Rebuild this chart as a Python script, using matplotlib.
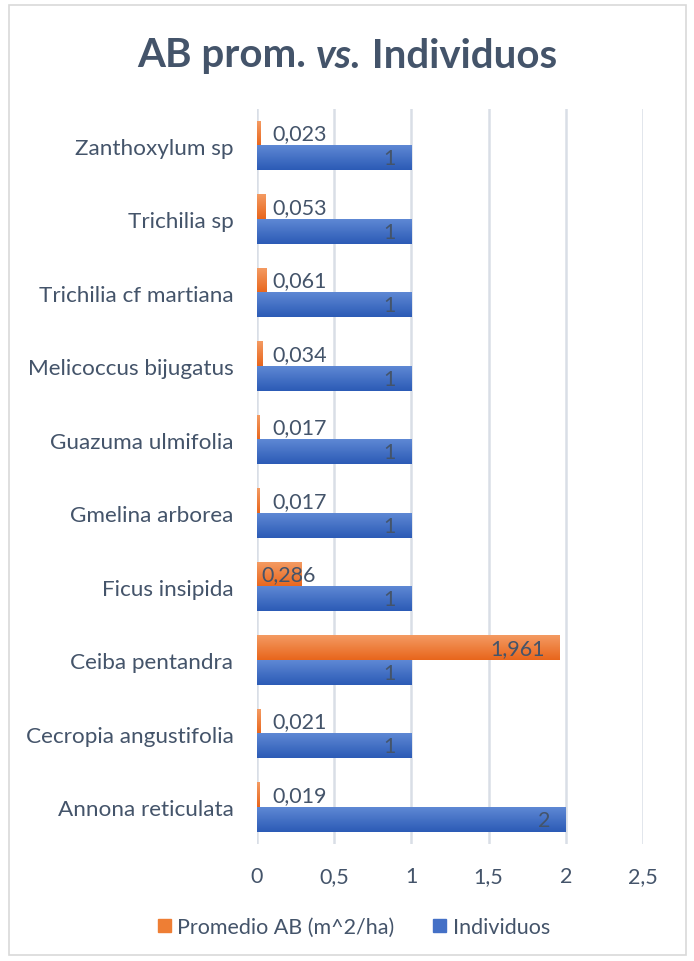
import numpy as np
import matplotlib.pyplot as plt
from matplotlib.colors import LinearSegmentedColormap
from matplotlib.patches import Rectangle

especies = ["Annona reticulata", "Cecropia angustifolia", "Ceiba pentandra",
            "Ficus insipida", "Gmelina arborea", "Guazuma ulmifolia",
            "Melicoccus bijugatus", "Trichilia cf martiana", "Trichilia sp",
            "Zanthoxylum sp"]
promedio_ab = [0.019, 0.021, 1.961, 0.286, 0.017, 0.017, 0.034, 0.061, 0.053, 0.023]
individuos = [2, 1, 1, 1, 1, 1, 1, 1, 1, 1]
xticks = [0, 0.5, 1, 1.5, 2, 2.5]

texto = "#44546A"
fs = 15.5
plt.rcParams['font.family'] = ['Lato', 'DejaVu Sans']

fig = plt.figure(figsize=(6.94, 9.62), dpi=100)

# marco del gráfico
fig.patches.append(Rectangle((9 / 694, 6 / 962), 677 / 694, 950 / 962,
                             transform=fig.transFigure, fill=False,
                             edgecolor="#D9D9D9", linewidth=1.2))

ax = fig.add_axes([257 / 694, 1 - 845 / 962, 386 / 694, 735 / 962])

naranja = LinearSegmentedColormap.from_list("nar", ["#F49A62", "#E8661C"])
azul = LinearSegmentedColormap.from_list("azu", ["#5E88D4", "#2C5BB6"])
grad = np.linspace(0, 1, 64).reshape(-1, 1)

h = 0.334
y = np.arange(len(especies))


def barra_gradiente(x0, y0, ancho, alto, cmap):
    ax.imshow(grad, extent=(x0, x0 + ancho, y0, y0 + alto), origin="upper",
              cmap=cmap, aspect="auto", zorder=3, interpolation="bilinear")


for i in y:
    barra_gradiente(0, i, promedio_ab[i], h, naranja)
    barra_gradiente(0, i - h, individuos[i], h, azul)

# etiquetas de datos
for i in y:
    v = promedio_ab[i]
    lab = f"{v:.3f}".replace(".", ",")
    if v > 1:
        ax.text(v - 0.1, i + h / 2, lab, ha="right", va="center",
                fontsize=fs, color=texto, zorder=4)
    elif v > 0.1:
        ax.text(0.03, i + h / 2, lab, ha="left", va="center",
                fontsize=fs, color=texto, zorder=4)
    else:
        ax.text(0.1, i + h / 2, lab, ha="left", va="center",
                fontsize=fs, color=texto, zorder=4)
    ax.text(individuos[i] - 0.1, i - h / 2, str(individuos[i]), ha="right",
            va="center", fontsize=fs, color=texto, zorder=4)

ax.set_xlim(0, 2.5)
ax.set_ylim(-0.5, len(especies) - 0.5)
ax.set_xticks(xticks)
ax.set_xticklabels([f"{t:g}".replace(".", ",") for t in xticks])
ax.set_yticks(y)
ax.set_yticklabels(especies)
ax.tick_params(axis="both", length=0, labelsize=fs, labelcolor=texto)
ax.tick_params(axis="y", labelsize=16.2, pad=17)
ax.tick_params(axis="x", pad=16)
ax.grid(axis="x", color="#D9DEE6", linewidth=1.8, zorder=0)
for s in ax.spines.values():
    s.set_visible(False)

# título en tres partes, con "vs." en cursiva
partes = [("AB prom. ", "normal"), ("vs.", "italic"), (" Individuos", "normal")]
r = fig.canvas.get_renderer()
objs = []
for t, estilo in partes:
    objs.append(fig.text(0, 1 - 56 / 962, t, ha="left", va="center",
                         fontsize=29, fontweight="bold", style=estilo,
                         color=texto))
anchos = [o.get_window_extent(r).width for o in objs]
x = (fig.bbox.width - sum(anchos)) / 2
for o, w in zip(objs, anchos):
    o.set_x(x / fig.bbox.width)
    x += w

# leyenda
handles = [Rectangle((0, 0), 1, 1, color="#EE7E34"),
           Rectangle((0, 0), 1, 1, color="#4470C6")]
fig.legend(handles, ["Promedio AB (m^2/ha)", "Individuos"], loc="center",
           bbox_to_anchor=(0.51, 1 - 928 / 962), ncol=2, frameon=False,
           fontsize=fs, labelcolor=texto, handlelength=0.6,
           handleheight=0.6, handletextpad=0.3, columnspacing=1.8)

fig.savefig("out.png", dpi=100)
